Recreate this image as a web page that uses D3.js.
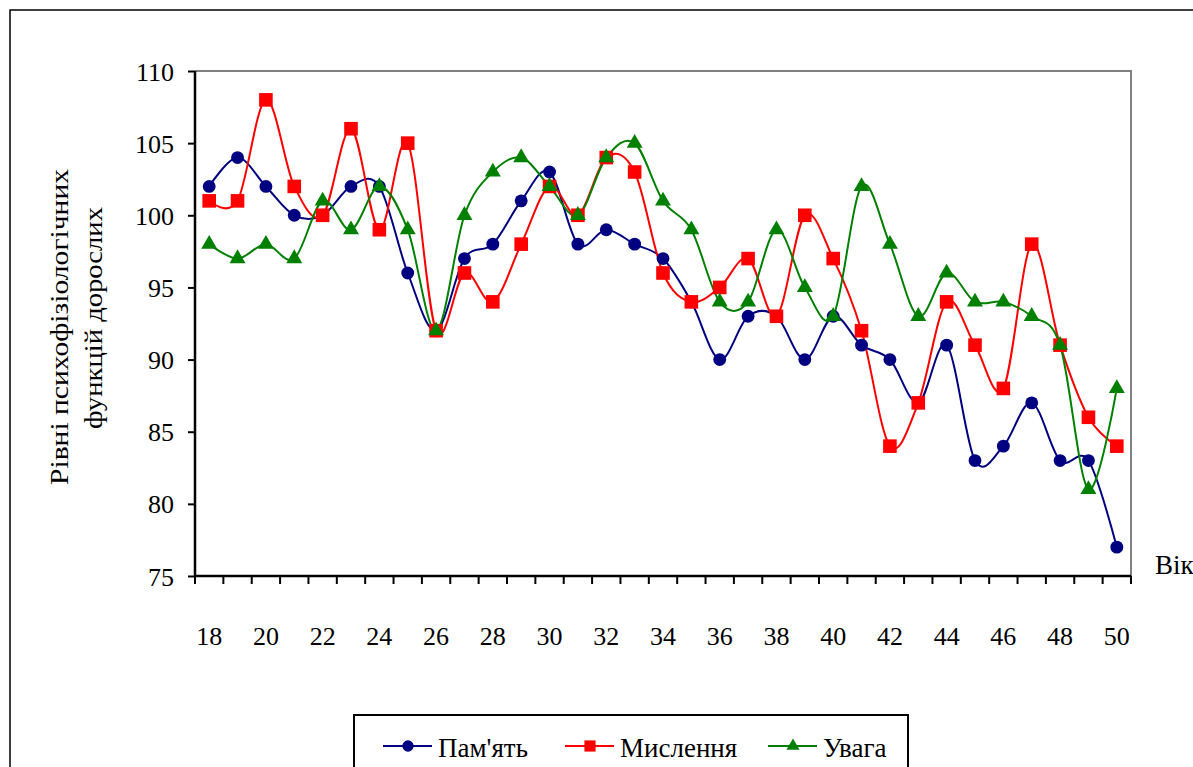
<!DOCTYPE html>
<html>
<head>
<meta charset="utf-8">
<script src="https://cdn.jsdelivr.net/npm/d3@7"></script>
<style>
  body { margin: 0; background: #fff; }
  svg { display: block; }
</style>
</head>
<body>
<svg width="1193" height="767"></svg>
<script>
const ages = d3.range(18, 51);

const memory = [102, 104, 102, 100, 100, 102, 102, 96, 92, 97, 98, 101, 103, 98, 99, 98, 97,
  94, 90, 93, 93, 90, 93, 91, 90, 87, 91, 83, 84, 87, 83, 83, 77];
const thinking = [101, 101, 108, 102, 100, 106, 99, 105, 92, 96, 94, 98, 102, 100, 104, 103, 96,
  94, 95, 97, 93, 100, 97, 92, 84, 87, 94, 91, 88, 98, 91, 86, 84];
const attention = [98, 97, 98, 97, 101, 99, 102, 99, 92, 100, 103, 104, 102, 100, 104, 105, 101,
  99, 94, 94, 99, 95, 93, 102, 98, 93, 96, 94, 94, 93, 91, 81, 88];

const yTicks = [75, 80, 85, 90, 95, 100, 105, 110];

const series = [
  { name: "Пам'ять", values: memory, color: "#000080", symbol: d3.symbolCircle, size: 130, legSize: 100 },
  { name: "Мислення", values: thinking, color: "#ff0000", symbol: d3.symbolSquare, size: 185, legSize: 125 },
  { name: "Увага", values: attention, color: "#008000", symbol: d3.symbolTriangle, size: 110, legSize: 75 },
];

const plotL = 195, plotR = 1131, plotT = 71, plotB = 576;
const FONT = "Liberation Serif";

const svg = d3.select("svg");

// outer frame
svg.append("rect")
  .attr("x", 10).attr("y", 10)
  .attr("width", 1400).attr("height", 1000)
  .attr("fill", "none").attr("stroke", "#000").attr("stroke-width", 1.5);

const x = d3.scalePoint().domain(ages).range([plotL, plotR]).padding(0.5);
const xBand = d3.scaleBand().domain(ages).range([plotL, plotR]);
const y = d3.scaleLinear().domain([75, 110]).range([plotB, plotT]);

// plot area border (top / right)
svg.append("path")
  .attr("d", `M${plotL},${plotT}H${plotR}V${plotB}`)
  .attr("fill", "none").attr("stroke", "#808080").attr("stroke-width", 2);

// y axis
const yAxis = svg.append("g").attr("transform", `translate(${plotL},0)`)
  .call(d3.axisLeft(y).tickValues(yTicks).tickSize(7).tickPadding(14).tickFormat(d3.format("d")));
yAxis.attr("font-family", null);
yAxis.select(".domain").attr("stroke", "#000").attr("stroke-width", 2.5).attr("d", `M0,${plotT}V${plotB}`);
yAxis.selectAll(".tick line").attr("stroke", "#000").attr("stroke-width", 2);
yAxis.selectAll(".tick text")
  .style("font-size", "26px").style("font-family", FONT)
  .attr("dy", "0.35em");

// x axis
const xAxis = svg.append("g").attr("transform", `translate(0,${plotB})`);
xAxis.append("line").attr("x1", plotL).attr("x2", plotR)
  .attr("stroke", "#000").attr("stroke-width", 2.5);
xAxis.selectAll(".xt").data(ages.map((a) => xBand(a)).concat([plotR]))
  .join("line").attr("class", "xt")
  .attr("x1", (d) => d).attr("x2", (d) => d)
  .attr("y1", 0).attr("y2", 8)
  .attr("stroke", "#000").attr("stroke-width", 2);
xAxis.selectAll(".xl").data(ages.filter((a) => a % 2 === 0))
  .join("text").attr("class", "xl")
  .attr("x", (d) => x(d)).attr("y", 69)
  .attr("text-anchor", "middle")
  .style("font-size", "26px").style("font-family", FONT)
  .text((d) => d);

svg.append("text").attr("x", 1155).attr("y", 574)
  .style("font-size", "27px").style("font-family", FONT).text("Вік");

// y axis title
const title = svg.append("text")
  .attr("transform", "translate(72,327) rotate(-90)")
  .attr("text-anchor", "middle")
  .style("font-size", "26px").style("font-family", FONT);
title.append("tspan").attr("x", 0).attr("dy", "-0.15em")
  .attr("textLength", 316).attr("lengthAdjust", "spacingAndGlyphs")
  .text("Рівні психофізіологічних");
title.append("tspan").attr("x", 9).attr("dy", "1.3em")
  .attr("textLength", 222).attr("lengthAdjust", "spacingAndGlyphs")
  .text("функцій  дорослих");

// lines
const line = d3.line()
  .x((d, i) => x(ages[i]))
  .y((d) => y(d))
  .curve(d3.curveCardinal.tension(0));

series.forEach((s) => {
  svg.append("path")
    .datum(s.values)
    .attr("d", line)
    .attr("fill", "none")
    .attr("stroke", s.color)
    .attr("stroke-width", 2);
});

series.forEach((s) => {
  svg.append("g").selectAll("path")
    .data(s.values)
    .join("path")
    .attr("transform", (d, i) => `translate(${x(ages[i])},${y(d)})`)
    .attr("d", d3.symbol().type(s.symbol).size(s.size))
    .attr("fill", s.color);
});

// legend
svg.append("rect")
  .attr("x", 354).attr("y", 715)
  .attr("width", 554).attr("height", 100)
  .attr("fill", "#fff").attr("stroke", "#000").attr("stroke-width", 2);

const legendX = [383, 565, 768];
const legend = svg.append("g").selectAll("g")
  .data(series)
  .join("g")
  .attr("transform", (d, i) => `translate(${legendX[i]},746)`);
legend.append("line")
  .attr("x1", 0).attr("x2", 49)
  .attr("stroke", (d) => d.color).attr("stroke-width", 2);
legend.append("path")
  .attr("transform", "translate(25,0)")
  .attr("d", (d) => d3.symbol().type(d.symbol).size(d.legSize)())
  .attr("fill", (d) => d.color);
legend.append("text")
  .attr("x", 55).attr("y", 11)
  .style("font-size", "27px").style("font-family", FONT)
  .text((d) => d.name);
</script>
</body>
</html>
